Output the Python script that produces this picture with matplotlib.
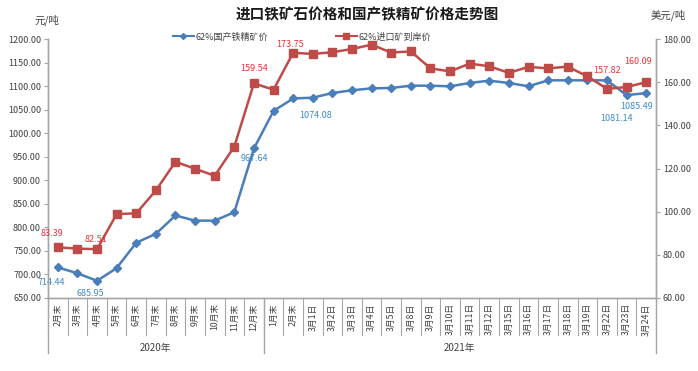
import numpy as np
import matplotlib.pyplot as plt
import matplotlib.transforms as mtransforms
from matplotlib.lines import Line2D
from matplotlib.ticker import FormatStrFormatter

plt.rcParams['font.family'] = ['Noto Sans CJK SC', 'DejaVu Sans']

# Data
months_2020 = ["2月末", "3月末", "4月末", "5月末", "6月末", "7月末", "8月末",
               "9月末", "10月末", "11月末", "12月末"]
days_2021 = ["1月末", "2月末", "3月1日", "3月2日", "3月3日", "3月4日", "3月5日",
             "3月8日", "3月9日", "3月10日", "3月11日", "3月12日", "3月15日",
             "3月16日", "3月17日", "3月18日", "3月19日", "3月22日", "3月23日",
             "3月24日"]
categories = months_2020 + days_2021
year_labels = ["2020年", "2021年"]

# 62% domestic concentrate (yuan/t, left axis)
domestic = [714.44, 702, 685.95, 713, 767, 786, 825, 814, 814, 832, 967.64,
            1047.5, 1074.08, 1075.7, 1085.7, 1091.5, 1095.6, 1096.4, 1101.3,
            1101.3, 1099.9, 1107, 1112, 1107, 1100, 1112.7, 1112.7, 1112.7,
            1112.7, 1081.14, 1085.49]
# 62% imported ore CFR (USD/t, right axis)
imported = [83.39, 82.8, 82.51, 98.8, 99.2, 109.8, 123.1, 119.9, 116.6, 130.2,
            159.54, 156.6, 173.75, 173.2, 174.0, 175.5, 177.5, 173.8, 174.4,
            166.5, 165.1, 168.7, 167.5, 164.4, 167.2, 166.5, 167.3, 162.8,
            157.0, 157.82, 160.09]

# labelled points: index -> offset in points
domestic_labels = {0: (-5, -11), 2: (-5, -9), 10: (0, -7), 12: (16, -12),
                   29: (-7, -17), 30: (-7, -10)}
imported_labels = {0: (-4, 10), 2: (-1, 7), 10: (0, 11), 12: (-2, 6),
                   29: (-14, 12), 30: (-6, 15)}

blue = "#4a7ebb"
red = "#be4b48"
blue_txt = "#3d8bcb"
red_txt = "#e8353a"
axis_gray = "#a6a6a6"
txt_gray = "#404040"

fig = plt.figure(figsize=(6.98, 3.71), dpi=100)
ax = fig.add_axes([48 / 698, 1 - 297.7 / 371, 608 / 698, 258.4 / 371])
ax2 = ax.twinx()

x = np.arange(len(categories))
ax.plot(x, domestic, color=blue, lw=1.8, marker="D", ms=4, zorder=3)
ax2.plot(x, imported, color=red, lw=1.8, marker="s", ms=6, zorder=3)

for i, off in domestic_labels.items():
    ax.annotate(f"{domestic[i]:.2f}", (x[i], domestic[i]), xytext=off,
                textcoords="offset points", ha="center", va="center",
                fontsize=6.5, color=blue_txt, zorder=5)
for i, off in imported_labels.items():
    ax2.annotate(f"{imported[i]:.2f}", (x[i], imported[i]), xytext=off,
                 textcoords="offset points", ha="center", va="center",
                 fontsize=6.5, color=red_txt, zorder=5)

ax.set_xlim(-0.5, len(categories) - 0.5)
ax.set_ylim(650, 1200)
ax.set_yticks(np.arange(650, 1201, 50))
ax2.set_ylim(60, 180)
ax2.set_yticks(np.arange(60, 181, 20))
ax.yaxis.set_major_formatter(FormatStrFormatter("%.2f"))
ax2.yaxis.set_major_formatter(FormatStrFormatter("%.2f"))

ax.set_xticks(x)
ax.set_xticklabels(categories, rotation=90, fontsize=6.3, color=txt_gray,
                   va="top", ha="center")
ax.tick_params(axis="x", length=0, pad=4)
ax.tick_params(axis="y", labelsize=6.5, labelcolor=txt_gray, color=axis_gray,
               length=3, width=0.8, pad=2)
ax2.tick_params(axis="y", labelsize=6.5, labelcolor=txt_gray, color=axis_gray,
                length=3, width=0.8, pad=2)

for a in (ax, ax2):
    a.spines["top"].set_visible(False)
    for s in ("left", "right", "bottom"):
        a.spines[s].set_color(axis_gray)
        a.spines[s].set_linewidth(1.0)

# category dividers and year groups below the axis
trans = mtransforms.blended_transform_factory(ax.transData, ax.transAxes)
for k in range(len(categories) + 1):
    ax.plot([k - 0.5, k - 0.5], [0, -0.144], transform=trans, color=axis_gray,
            lw=0.8, clip_on=False)
n20 = len(months_2020)
for b in (-0.5, n20 - 0.5, len(categories) - 0.5):
    ax.plot([b, b], [0, -0.214], transform=trans, color=axis_gray, lw=1.0,
            clip_on=False)
ax.text((n20 - 1) / 2, -0.195, year_labels[0], transform=trans, ha="center",
        va="center", fontsize=7, color=txt_gray)
ax.text((n20 + len(categories) - 1) / 2, -0.195, year_labels[1],
        transform=trans, ha="center", va="center", fontsize=7, color=txt_gray)

# titles and units
fig.text(367 / 698, 1 - 14 / 371, "进口铁矿石价格和国产铁精矿价格走势图",
         ha="center", va="center", fontsize=10.5, fontweight="bold",
         color="#1a1a1a")
fig.text(47 / 698, 1 - 20 / 371, "元/吨", ha="center", va="center",
         fontsize=7.5, color=txt_gray)
fig.text(668 / 698, 1 - 15 / 371, "美元/吨", ha="center", va="center",
         fontsize=7.5, color=txt_gray)

handles = [Line2D([], [], color=blue, lw=1.5, marker="D", ms=3),
           Line2D([], [], color=red, lw=1.5, marker="s", ms=4)]
fig.legend(handles, ["62%国产铁精矿价", "62%进口矿到岸价"], loc="center",
           bbox_to_anchor=(302 / 698, 1 - 37 / 371), ncol=2, frameon=False,
           fontsize=6.5, handlelength=2.3, columnspacing=7.5,
           handletextpad=0.2, labelcolor=txt_gray)

fig.savefig("out.png", dpi=100, facecolor="white")
